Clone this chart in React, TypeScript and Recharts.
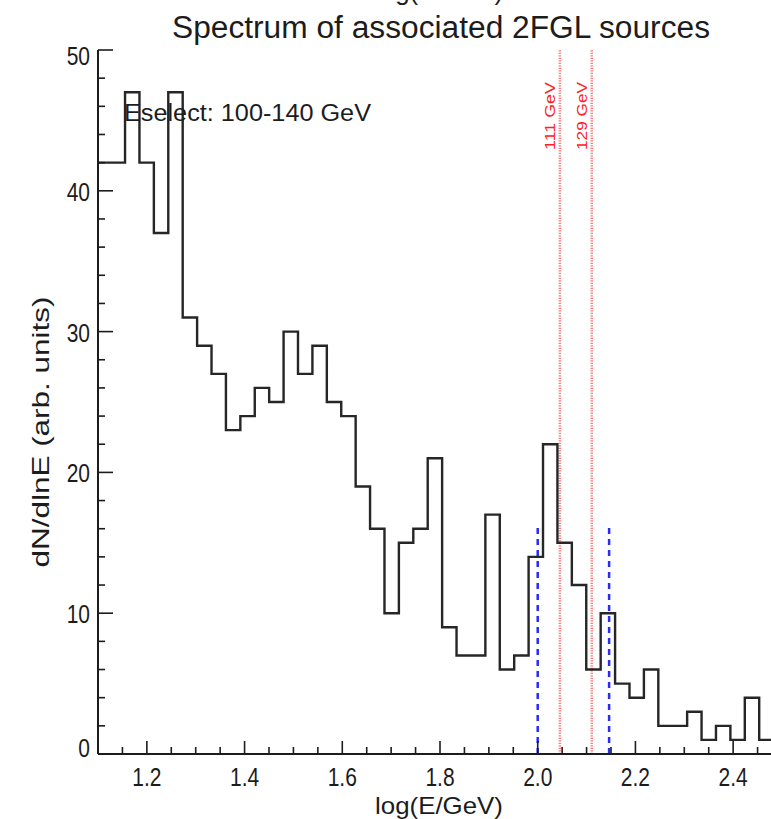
import React from "react";
import { ComposedChart, Line, XAxis, YAxis, ReferenceLine } from "recharts";

// histogram of log(E/GeV), bin centres and heights
const binCenters = [
  1.0816, 1.1111, 1.1406, 1.1701, 1.1996, 1.2291, 1.2586, 1.2881, 1.3176, 1.3471,
  1.3766, 1.4061, 1.4356, 1.4651, 1.4946, 1.5241, 1.5536, 1.5831, 1.6126, 1.6421,
  1.6716, 1.7011, 1.7306, 1.7601, 1.7896, 1.8191, 1.8486, 1.8781, 1.9076, 1.9371,
  1.9666, 1.9961, 2.0256, 2.0551, 2.0846, 2.1141, 2.1436, 2.1731, 2.2026, 2.2321,
  2.2616, 2.2911, 2.3206, 2.3501, 2.3796, 2.4091, 2.4386, 2.4681, 2.4976,
];
const counts = [
  42, 42, 42, 47, 42, 37, 47, 31, 29, 27,
  23, 24, 26, 25, 30, 27, 29, 25, 24, 19,
  16, 10, 15, 16, 21, 9, 7, 7, 17, 6,
  7, 14, 22, 15, 12, 6, 10, 5, 4, 6,
  2, 2, 3, 1, 2, 1, 4, 1, 1,
];

const xTicks = [
  1.1, 1.15, 1.2, 1.25, 1.3, 1.35, 1.4, 1.45, 1.5, 1.55, 1.6, 1.65, 1.7, 1.75, 1.8,
  1.85, 1.9, 1.95, 2.0, 2.05, 2.1, 2.15, 2.2, 2.25, 2.3, 2.35, 2.4, 2.45, 2.5,
];
const xLabels = [1.2, 1.4, 1.6, 1.8, 2.0, 2.2, 2.4];
const yTicks = [
  0, 2, 4, 6, 8, 10, 12, 14, 16, 18, 20, 22, 24, 26, 28, 30, 32, 34, 36, 38, 40,
  42, 44, 46, 48, 50,
];
const yLabels = [0, 10, 20, 30, 40, 50];

// energy selection window (blue) and line energies (red), in GeV
const selectWindow = [100, 140];
const selectTop = 16.4;
const lineEnergies = [111, 129];

const data = binCenters.map((x, i) => ({ x, y: counts[i] }));

const FONT = "'Liberation Sans', Arial, Helvetica, sans-serif";
const INK = "#1c1c1c";
const STRETCH = 1.22; // the original figure is a bit taller than wide

const isIn = (list: number[], v: number) => list.some(m => Math.abs(m - v) < 1e-6);

function XTick(props: any) {
  const { x, y, payload, orientation } = props;
  const v = payload.value;
  const major = isIn(xLabels, v);
  const len = major ? 13 : 7;
  const top = orientation === "top";
  return (
    <g>
      <line x1={x} y1={y} x2={x} y2={top ? y + len : y - len} stroke={INK} strokeWidth={1.6} />
      {!top && major && (
        <text
          transform={`translate(${x},${y + 32}) scale(1,${STRETCH})`}
          textAnchor="middle"
          fontSize={21}
          fontFamily={FONT}
          fill={INK}
        >
          {v.toFixed(1)}
        </text>
      )}
    </g>
  );
}

function YTick(props: any) {
  const { x, y, payload, orientation } = props;
  const v = payload.value;
  const major = isIn(yLabels, v);
  const len = major ? 15 : 7;
  const right = orientation === "right";
  // the end labels sit a little inside the frame, as in the original
  const dy = v === 50 ? 6 : v === 0 ? -6 : 1;
  return (
    <g>
      <line x1={x} y1={y} x2={right ? x - len : x + len} y2={y} stroke={INK} strokeWidth={1.6} />
      {!right && major && (
        <text
          transform={`translate(${x - 8},${y + dy + 9}) scale(1,${STRETCH})`}
          textAnchor="end"
          fontSize={21}
          fontFamily={FONT}
          fill={INK}
        >
          {v}
        </text>
      )}
    </g>
  );
}

function GevLabel({ viewBox, text }: any) {
  const x = viewBox.x - 5;
  const y = viewBox.y + 66;
  return (
    <text
      transform={`translate(${x},${y}) rotate(-90)`}
      textAnchor="middle"
      fontSize={14}
      fontFamily={FONT}
      fill="#ff2020"
      textLength={68}
      lengthAdjust="spacingAndGlyphs"
    >
      {text}
    </text>
  );
}

export default function App() {
  return (
    <div style={{ position: "absolute", left: 0, top: 0, width: 771, height: 819, overflow: "hidden", background: "#fff" }}>
      <ComposedChart width={800} height={819} data={data} margin={{ top: 50, right: 18, bottom: 0, left: 0 }}>
        <XAxis
          dataKey="x"
          type="number"
          domain={[1.1, 2.5]}
          allowDataOverflow
          ticks={xTicks}
          interval={0}
          height={65}
          tickSize={0}
          tickMargin={0}
          tickLine={false}
          axisLine={{ stroke: INK, strokeWidth: 2 }}
          tick={<XTick orientation="bottom" />}
        />
        <XAxis
          xAxisId="top"
          orientation="top"
          dataKey="x"
          type="number"
          domain={[1.1, 2.5]}
          allowDataOverflow
          ticks={xTicks}
          interval={0}
          height={0}
          tickSize={0}
          tickMargin={0}
          tickLine={false}
          axisLine={{ stroke: INK, strokeWidth: 2 }}
          tick={<XTick orientation="top" />}
        />
        <YAxis
          type="number"
          domain={[0, 50]}
          allowDataOverflow
          ticks={yTicks}
          interval={0}
          width={98}
          tickSize={0}
          tickMargin={0}
          tickLine={false}
          axisLine={{ stroke: INK, strokeWidth: 2 }}
          tick={<YTick orientation="left" />}
        />
        <YAxis
          yAxisId="right"
          orientation="right"
          type="number"
          domain={[0, 50]}
          allowDataOverflow
          ticks={yTicks}
          interval={0}
          width={0}
          tickSize={0}
          tickMargin={0}
          tickLine={false}
          axisLine={{ stroke: INK, strokeWidth: 2 }}
          tick={<YTick orientation="right" />}
        />
        {lineEnergies.map(e => (
          <ReferenceLine
            key={e}
            x={Math.log10(e)}
            stroke="#ff7a7a"
            strokeWidth={2.5}
            strokeDasharray="1.2 1.3"
            label={<GevLabel text={`${e} GeV`} />}
          />
        ))}
        {selectWindow.map(e => (
          <ReferenceLine
            key={e}
            segment={[{ x: Math.log10(e), y: 0 }, { x: Math.log10(e), y: selectTop }]}
            stroke="#2a2aff"
            strokeWidth={2.5}
            strokeDasharray="6 5"
          />
        ))}
        <Line
          type="step"
          dataKey="y"
          stroke="#262626"
          strokeWidth={2.4}
          dot={false}
          activeDot={false}
          isAnimationActive={false}
        />
      </ComposedChart>
      <svg width={771} height={819} style={{ position: "absolute", left: 0, top: 0, pointerEvents: "none" }}>
        <text x={439} y={0} textAnchor="middle" fontSize={26} fontFamily={FONT} fill={INK} textLength={128} lengthAdjust="spacingAndGlyphs">
          log(E/GeV)
        </text>
        <text x={441} y={38} textAnchor="middle" fontSize={31} fontFamily={FONT} fill={INK} textLength={538} lengthAdjust="spacingAndGlyphs">
          Spectrum of associated 2FGL sources
        </text>
        <text x={124} y={121} fontSize={23} fontFamily={FONT} fill={INK} textLength={247} lengthAdjust="spacingAndGlyphs">
          Eselect: 100-140 GeV
        </text>
        <text x={439} y={814} textAnchor="middle" fontSize={24} fontFamily={FONT} fill={INK} textLength={128} lengthAdjust="spacingAndGlyphs">
          log(E/GeV)
        </text>
        <text
          transform="translate(49,432) rotate(-90)"
          textAnchor="middle"
          fontSize={24}
          fontFamily={FONT}
          fill={INK}
          textLength={271}
          lengthAdjust="spacingAndGlyphs"
        >
          dN/dlnE (arb. units)
        </text>
      </svg>
    </div>
  );
}
